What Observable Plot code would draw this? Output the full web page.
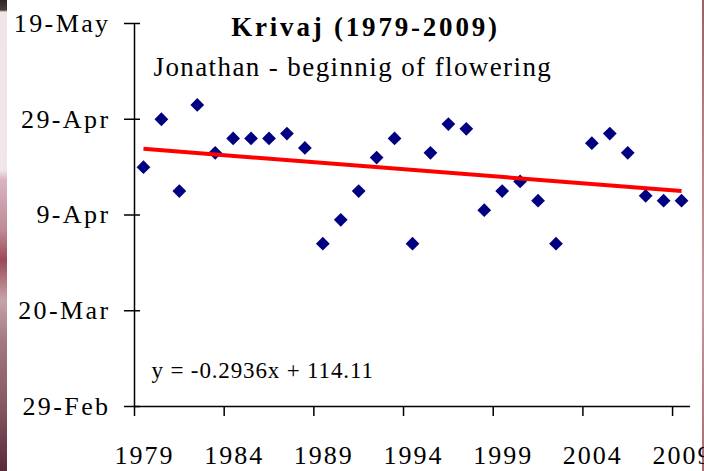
<!DOCTYPE html>
<html><head><meta charset="utf-8">
<script src="https://cdn.jsdelivr.net/npm/d3@7"></script>
<script src="https://cdn.jsdelivr.net/npm/@observablehq/plot@0.6"></script>
<style>
html,body{margin:0;padding:0;background:#fff;}
#chart{position:relative;width:704px;height:471px;overflow:hidden;
  background:
    linear-gradient(to bottom,#2e2624 0px,#4a3b38 10px,#efe4e8 12px,#f1e6ea 170px,#d9b4bf 180px,#c08a98 230px,#9a4a56 260px,#c5a4aa 300px,#a47a80 340px,#8a5a66 400px,#5a2a3a 471px) left top/7px 100% no-repeat,
    linear-gradient(to bottom,#9a6068 0px,#b77c80 120px,#c996a0 300px,#a86a72 471px) right top/2px 100% no-repeat,
    #fff;}
#chart svg{position:absolute;left:0;top:0;}
</style></head><body><div id="chart"></div>
<script>
const years = [1979,1980,1981,1982,1983,1984,1985,1986,1987,1988,1989,1990,1991,1992,1993,1994,1995,1996,1997,1998,1999,2000,2001,2002,2003,2004,2005,2006,2007,2008,2009];
// day of year (29-Feb = 60, leap-year calendar); null = missing
const flowering = [110,120,105,123,113,116,116,116,117,114,94,99,105,112,116,94,113,119,118,101,105,107,103,94,null,115,117,113,104,103,103];
const yTickValues = [60,80,100,120,140];
const yTickLabels = ["29-Feb","20-Mar","9-Apr","29-Apr","19-May"];
const xLabelYears = [1979,1984,1989,1994,1999,2004,2009];
const trendSlope = -0.2936;
const trendIntercept = 114.11;
const title = "Krivaj (1979-2009)";
const subtitle = "Jonathan - beginnig of flowering";
const equation = "y = -0.2936x + 114.11";

const points = years.map((year, i) => ({year, day: flowering[i]})).filter(d => d.day != null);
const firstYear = years[0], lastYear = years[years.length - 1];
const trend = [firstYear, lastYear].map(year => ({year, day: trendIntercept + trendSlope * (year - firstYear + 1)}));
const xTickBoundaries = xLabelYears.map(y => y - 0.5);
const xDomain = [firstYear - 0.5, lastYear + 0.5];
const labelOf = new Map(yTickValues.map((v, i) => [v, yTickLabels[i]]));

const font = "'Liberation Serif','Times New Roman',serif";
const plot = Plot.plot({
  width: 704, height: 471,
  marginLeft: 134, marginRight: 14, marginTop: 23, marginBottom: 65,
  style: {background: "transparent", fontFamily: font, fontSize: "26px", color: "#000", overflow: "visible"},
  x: {domain: xDomain, axis: null},
  y: {domain: [yTickValues[0], yTickValues[yTickValues.length - 1]], axis: null},
  marks: [
    Plot.ruleX([xDomain[0]], {y1: yTickValues[0], y2: yTickValues[yTickValues.length - 1], stroke: "#000", strokeWidth: 1.5}),
    Plot.ruleY([yTickValues[0]], {x1: xDomain[0], x2: xDomain[1], stroke: "#000", strokeWidth: 1.5}),
    Plot.axisY({ticks: yTickValues, tickSize: 16, dx: 6, tickFormat: () => "", label: null, stroke: "#000", strokeWidth: 1.5}),
    Plot.axisY({ticks: yTickValues, tickSize: 0, tickPadding: 24, tickFormat: d => labelOf.get(d), label: null, fontSize: 26, fill: "#000"}),
    Plot.axisX({ticks: xTickBoundaries, tickSize: 10, tickFormat: () => "", label: null, stroke: "#000", strokeWidth: 1.5}),
    Plot.axisX({ticks: xLabelYears, tickSize: 0, tickPadding: 39, dx: 1, tickFormat: d => String(d), label: null, fontSize: 26, fill: "#000"}),
    Plot.dot(points, {x: "year", y: "day", symbol: "diamond2", r: 6.2, fill: "#000080", stroke: "none"}),
    Plot.line(trend, {x: "year", y: "day", stroke: "#ff0000", strokeWidth: 4, strokeLinecap: "butt"}),
    Plot.text([title], {frameAnchor: "top-left", textAnchor: "middle", lineAnchor: "bottom", dx: 231, dy: 12, fontSize: 27, fontWeight: "bold", fill: "#000"}),
    Plot.text([subtitle], {frameAnchor: "top-left", textAnchor: "start", lineAnchor: "bottom", dx: 19, dy: 52, fontSize: 27, fill: "#000"}),
    Plot.text([equation], {frameAnchor: "top-left", textAnchor: "start", lineAnchor: "bottom", dx: 17, dy: 354, fontSize: 23, fill: "#000"})
  ]
});
document.getElementById("chart").appendChild(plot);

// widen the serif glyph runs to match the wider serif face of the original
const spacing = new Map([
  [title, "2.8px"], [subtitle, "1.4px"], [equation, "0.85px"],
  ...yTickLabels.map(t => [t, "2.4px"]),
  ...xLabelYears.map(y => [String(y), "2px"])
]);
d3.select(plot).selectAll("text").each(function () {
  const s = spacing.get(this.textContent);
  if (s) this.style.letterSpacing = s;
});
</script>
</body></html>
